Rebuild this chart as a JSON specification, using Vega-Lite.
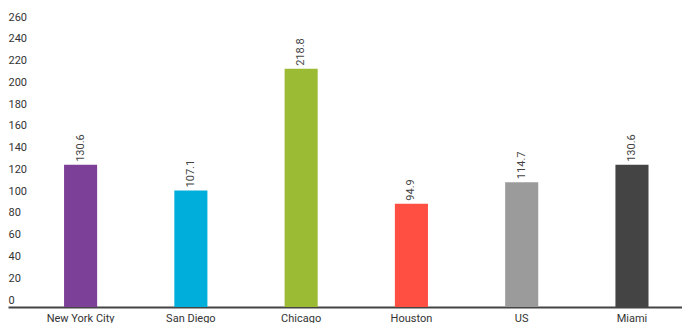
{
  "$schema": "https://vega.github.io/schema/vega-lite/v6.json",
  "width": 674,
  "height": 283,
  "autosize": {"type": "none"},
  "padding": {"left": 8, "top": 24, "right": 0, "bottom": 16},
  "config": {"view": {"stroke": null}, "font": "Roboto"},
  "data": {
    "values": [
      {"city": "New York City", "value": 130.6},
      {"city": "San Diego", "value": 107.1},
      {"city": "Chicago", "value": 218.8},
      {"city": "Houston", "value": 94.9},
      {"city": "US", "value": 114.7},
      {"city": "Miami", "value": 130.6}
    ]
  },
  "encoding": {
    "x": {
      "field": "city",
      "type": "nominal",
      "sort": null,
      "scale": {"paddingInner": 0.7, "paddingOuter": 0.406, "align": 0.626},
      "axis": {
        "title": null,
        "labelAngle": 0,
        "domainColor": "#444444",
        "domainWidth": 2,
        "ticks": false,
        "labelPadding": 5,
        "labelFontSize": 11,
        "labelColor": "#333333"
      }
    },
    "y": {
      "field": "value",
      "type": "quantitative",
      "scale": {"domain": [0, 260], "nice": false},
      "axis": {
        "title": null,
        "domain": false,
        "ticks": false,
        "tickSize": 0,
        "grid": false,
        "values": [0, 20, 40, 60, 80, 100, 120, 140, 160, 180, 200, 220, 240, 260],
        "labelAlign": "left",
        "labelPadding": 0,
        "labelBaseline": "alphabetic",
        "labelOffset": -4,
        "labelFontSize": 11,
        "labelColor": "#333333"
      }
    }
  },
  "layer": [
    {
      "mark": {"type": "bar"},
      "encoding": {
        "color": {
          "field": "city",
          "type": "nominal",
          "sort": null,
          "legend": null,
          "scale": {
            "domain": ["New York City", "San Diego", "Chicago", "Houston", "US", "Miami"],
            "range": ["#7D4098", "#00AEDB", "#9BBB34", "#FF4F43", "#9B9B9B", "#444444"]
          }
        }
      }
    },
    {
      "mark": {"type": "text", "angle": 270, "align": "left", "baseline": "middle", "dx": 3, "fontSize": 11, "color": "#444444"},
      "encoding": {
        "text": {"field": "value", "type": "quantitative", "format": ".1f"}
      }
    }
  ]
}
